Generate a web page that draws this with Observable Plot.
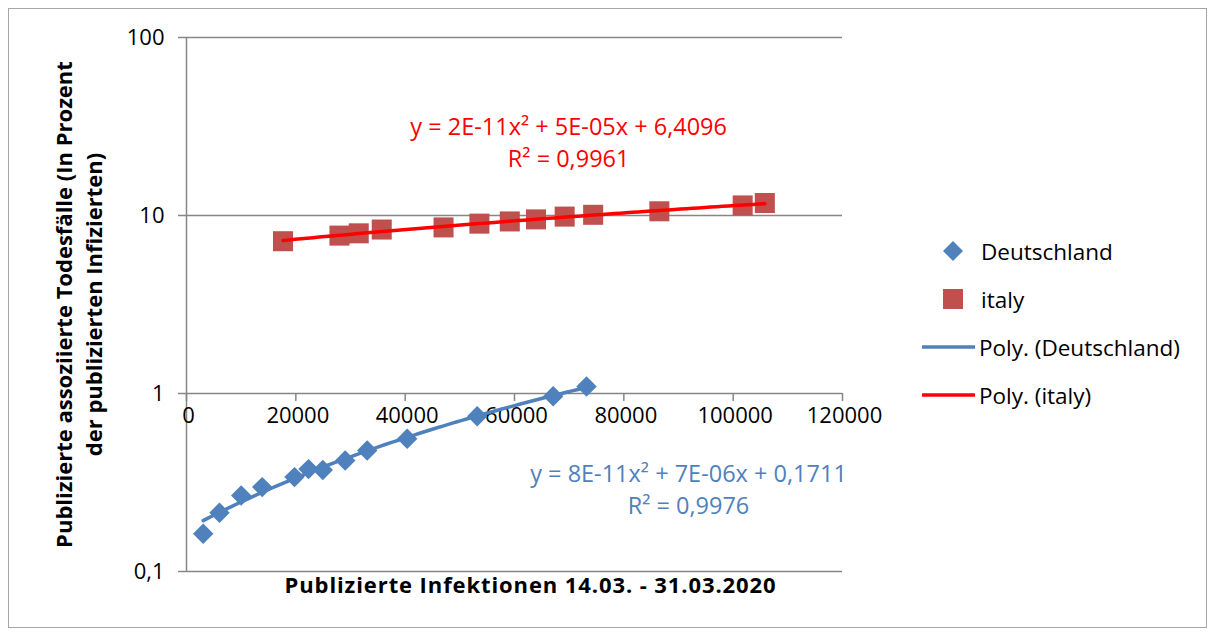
<!DOCTYPE html>
<html><head><meta charset="utf-8">
<script src="https://cdn.jsdelivr.net/npm/d3@7"></script>
<script src="https://cdn.jsdelivr.net/npm/@observablehq/plot@0.6"></script>
<style>
body{margin:0;background:#fff;font-family:"Open Sans",sans-serif;}
#wrap{position:relative;width:1214px;height:635px;overflow:hidden;}
#border{position:absolute;left:8px;top:8px;width:1199px;height:620px;border:1px solid #a6a6a6;box-sizing:border-box;}
#chart{position:absolute;left:0;top:0;}
#legend{position:absolute;left:920px;top:227px;}
.li{display:flex;align-items:center;height:48px;font-size:22.5px;color:#000;white-space:nowrap;}
.li svg{flex:none;}
</style></head><body>
<div id="wrap"><div id="border"></div><div id="chart"></div><div id="legend"></div></div>
<script>
// Deutschland: published infections vs. death rate (%)
const deX = [3055, 6037, 10006, 13848, 19756, 22317, 24933, 29031, 33056, 40373, 53178, 67080, 73172];
const deY = [0.163, 0.214, 0.267, 0.298, 0.339, 0.376, 0.372, 0.420, 0.478, 0.557, 0.745, 0.966, 1.094];
// italy
const itX = [17660, 27980, 31506, 35713, 47021, 53578, 59138, 63927, 69176, 74386, 86498, 101739, 105792];
const itY = [7.17, 7.71, 7.94, 8.34, 8.57, 9.00, 9.26, 9.51, 9.86, 10.09, 10.56, 11.39, 11.75];

const xTicks = [0, 20000, 40000, 60000, 80000, 100000, 120000];
const yTicks = [0.1, 1, 10, 100];
const seriesNames = ["Deutschland", "italy", "Poly. (Deutschland)", "Poly. (italy)"];
const eqDE = ["y = 8E-11x² + 7E-06x + 0,1711", "R² = 0,9976"];
const eqIT = ["y = 2E-11x² + 5E-05x + 6,4096", "R² = 0,9961"];
const xTitle = "Publizierte Infektionen 14.03. - 31.03.2020";
const yTitle = "Publizierte assoziierte Todesfälle (In Prozent\nder publizierten Infizierten)";

const colDE = "#4F81BD", colIT = "#C0504D", colITline = "#FF0000", gridCol = "#868686";

const de = deX.map((x, i) => ({x, y: deY[i]}));
const it = itX.map((x, i) => ({x, y: itY[i]}));

// quadratic least-squares trendline (as the spreadsheet's "Poly." trendline)
function polyfit2(xs, ys) {
  const s = 1e-4;
  const S = [0,0,0,0,0], T = [0,0,0];
  xs.forEach((x0, i) => {
    const x = x0 * s;
    for (let k = 0; k < 5; k++) S[k] += Math.pow(x, k);
    for (let k = 0; k < 3; k++) T[k] += ys[i] * Math.pow(x, k);
  });
  const A = [[S[0],S[1],S[2],T[0]],[S[1],S[2],S[3],T[1]],[S[2],S[3],S[4],T[2]]];
  for (let c = 0; c < 3; c++) {
    for (let r = c + 1; r < 3; r++) {
      const f = A[r][c] / A[c][c];
      for (let k = c; k < 4; k++) A[r][k] -= f * A[c][k];
    }
  }
  const b = [0,0,0];
  for (let r = 2; r >= 0; r--) {
    let v = A[r][3];
    for (let k = r + 1; k < 3; k++) v -= A[r][k] * b[k];
    b[r] = v / A[r][r];
  }
  return x0 => { const x = x0 * s; return b[0] + b[1]*x + b[2]*x*x; };
}
function trend(xs, ys) {
  const f = polyfit2(xs, ys);
  const x0 = d3.min(xs), x1 = d3.max(xs);
  return d3.range(81).map(i => { const x = x0 + (x1 - x0) * i / 80; return {x, y: f(x)}; });
}
const deTrend = trend(deX, deY);
const itTrend = trend(itX, itY);
const fmt = d => String(d).replace(".", ",");

const chart = Plot.plot({
  width: 1214, height: 635,
  marginLeft: 186, marginRight: 372, marginTop: 37, marginBottom: 64,
  style: {fontFamily: "'Open Sans', sans-serif", fontSize: "22px", background: "transparent", color: "#000", overflow: "visible"},
  x: {domain: [0, 120000], axis: null},
  y: {type: "log", domain: [0.1, 100]},
  marks: [
    Plot.ruleY(yTicks, {stroke: gridCol, strokeWidth: 1.5}),
    Plot.ruleX([0], {stroke: gridCol, strokeWidth: 1.5}),
    Plot.axisY({ticks: yTicks, tickSize: 8, tickPadding: 14, tickFormat: fmt, stroke: gridCol, strokeWidth: 1.5, fill: "#000", fontSize: 22, label: null}),
    Plot.ruleX(xTicks, {x: d => d, y1: () => 1, y2: () => 1, insetBottom: -8, stroke: gridCol, strokeWidth: 1.5}),
    Plot.text(xTicks, {x: d => d, y: () => 1, dy: 22, dx: 2, text: d => String(d), fontSize: 22, fill: "#000"}),
    Plot.dot(it, {x: "x", y: "y", symbol: "square", r: 11.3, fill: colIT, stroke: null}),
    Plot.dot(de, {x: "x", y: "y", symbol: "diamond2", r: 9.2, fill: colDE, stroke: null}),
    Plot.line(itTrend, {x: "x", y: "y", stroke: colITline, strokeWidth: 3.5}),
    Plot.line(deTrend, {x: "x", y: "y", stroke: colDE, strokeWidth: 3.5}),
    Plot.text([it[8]], {x: "x", y: "y", text: () => eqIT[0], dx: 4, dy: -89, fontSize: 23.5, fill: colITline}),
    Plot.text([it[8]], {x: "x", y: "y", text: () => eqIT[1], dx: 4, dy: -57, fontSize: 23.5, fill: colITline}),
    Plot.text([de[12]], {x: "x", y: "y", text: () => eqDE[0], dx: 102, dy: 88, fontSize: 23.5, fill: colDE}),
    Plot.text([de[12]], {x: "x", y: "y", text: () => eqDE[1], dx: 102, dy: 120, fontSize: 23.5, fill: colDE}),
    Plot.text([xTitle], {frameAnchor: "bottom", dx: 16, dy: 21, fontWeight: "bold", fontSize: 22, fill: "#000"}),
    Plot.text([yTitle], {frameAnchor: "left", dx: -109, rotate: -90, textAnchor: "middle", lineHeight: 1.36, fontWeight: "bold", fontSize: 22, fill: "#000"})
  ]
});
document.getElementById("chart").appendChild(chart);
d3.select(chart).selectAll("text").filter(function () { return this.textContent === xTitle; }).style("letter-spacing", "0.9px");

// legend
const legend = d3.select("#legend");
const kinds = ["diamond", "square", "lineDE", "lineIT"];
seriesNames.forEach((name, i) => {
  const row = legend.append("div").attr("class", "li");
  const svg = row.append("svg").attr("width", 58).attr("height", 48);
  const k = kinds[i];
  if (k === "diamond") svg.append("path").attr("d", "M33,14 L43,24 L33,34 L23,24 Z").attr("fill", colDE);
  if (k === "square") svg.append("rect").attr("x", 23).attr("y", 14).attr("width", 20).attr("height", 20).attr("fill", colIT);
  if (k === "lineDE") svg.append("line").attr("x1", 2).attr("x2", 55).attr("y1", 24).attr("y2", 24).attr("stroke", colDE).attr("stroke-width", 3.5);
  if (k === "lineIT") svg.append("line").attr("x1", 2).attr("x2", 55).attr("y1", 24).attr("y2", 24).attr("stroke", colITline).attr("stroke-width", 3.5);
  row.append("span").style("margin-left", (k.startsWith("line") ? 1 : 3) + "px").text(name);
});
</script>
</body></html>
